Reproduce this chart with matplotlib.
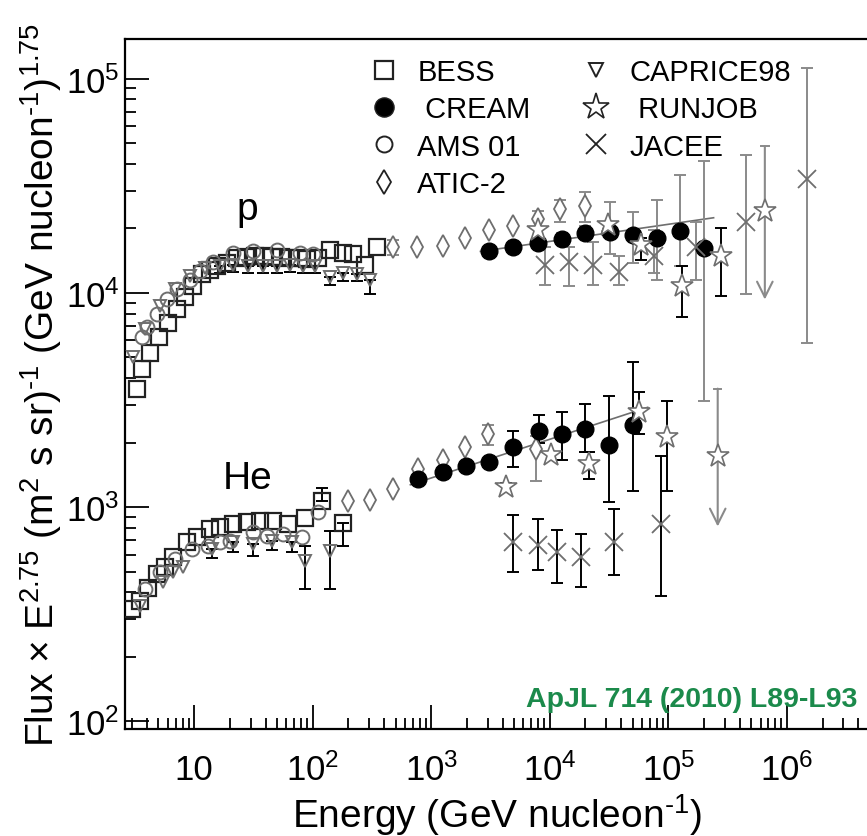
import numpy as np
import matplotlib
matplotlib.use('Agg')
import matplotlib.pyplot as plt
import matplotlib.ticker as ticker

plt.rcParams['font.family'] = ['Liberation Sans', 'DejaVu Sans']
plt.rcParams['mathtext.fontset'] = 'custom'
plt.rcParams['mathtext.rm'] = 'Liberation Sans'
plt.rcParams['mathtext.it'] = 'Liberation Sans:italic'

nan = np.nan

# ---- proton data (E in GeV/nucleon, flux x E^2.75) ----
p_bess_E = [3.3, 3.64, 4.25, 5.06, 6.03, 7.18, 8.39, 9.8, 11.7, 13.7, 15.6, 19.0, 23.1, 27.5, 32.5,
            38.5, 45.5, 54, 64, 76, 90, 110, 141, 181, 220, 278, 351]
p_bess_F = [3540, 4390, 5260, 6250, 7190, 8360, 9510, 10700, 12200, 12800, 13300, 13800, 14600, 14700, 14800,
            14800, 14700, 14700, 14600, 14500, 14400, 14600, 15800, 15400, 15100, 13550, 16400]

p_ams_E = [3.64, 4.0, 4.87, 5.92, 7.18, 9.25, 11.2, 14.5, 21.4, 31.5, 50, 78.5, 101]
p_ams_F = [6250, 6890, 7920, 9310, 10400, 11500, 12600, 13900, 15400, 15600, 15900, 15400, 15100]

p_caprice_E = [3.06, 3.86, 5.17, 6.92, 9.25, 12.4, 16.6, 21.4, 28.6, 38.3, 50, 64.7, 83.2, 105, 141, 181, 238, 306]
p_caprice_F = [4990, 6740, 8630, 10400, 12000, 13100, 13400, 13550, 13400, 13400, 13400, 13550, 13400, 13400,
               11800, 12400, 12200, 11500]
p_caprice_lo = [nan, nan, nan, nan, nan, nan, 12400, 12500, 12400, 12400, 12400, 12500, 12400, 12400,
                10900, 11400, 11300, 9820]
p_caprice_hi = [nan] * 18

p_atic_E = [480, 764, 1245, 1945, 3100, 4940, 7880, 12300, 19700]
p_atic_F = [16300, 16300, 16600, 18100, 19700, 20400, 22000, 24700, 25300]
p_atic_lo = [15000, nan, nan, nan, nan, nan, 20300, 21500, 21500]
p_atic_hi = [17700, nan, nan, nan, nan, nan, 24000, 27200, 29400]

p_cream_E = [3100, 4940, 7880, 12600, 20000, 32000, 50000, 79600, 125000, 200000]
p_cream_F = [15700, 16300, 17000, 17900, 19100, 19300, 18700, 18100, 19500, 16100]
p_cream_lo = [nan, nan, 16000, 16800, 17800, 15200, 13800, 11500, 13300, 3110]
p_cream_hi = [nan, nan, 18000, 19000, 20400, 26400, 23900, 27000, 35600, 41400]

p_runjob_E = [7880, 30800, 58500, 130000, 277000]
p_runjob_F = [19700, 20800, 16800, 10700, 14900]
p_runjob_lo = [nan, nan, 14300, 7740, 9610]
p_runjob_hi = [nan, nan, 18100, 13300, 20000]
p_runjob_ul_E = [652000]
p_runjob_ul_F = [24200]
p_runjob_ul_top = [48200]
p_runjob_ul_arrow = [9300]

p_jacee_E = [9040, 14400, 23000, 38100, 75300, 170000, 451000, 1480000]
p_jacee_F = [13550, 13850, 13550, 12550, 14800, 16300, 21500, 33800]
p_jacee_lo = [10900, 10700, 10900, 10900, 12400, 11500, 9820, 5860]
p_jacee_hi = [16400, 16300, 17200, 14800, 19700, 21500, 44200, 112000]

p_fit_E = [2600, 241000]
p_fit_F = [15600, 22400]

# ---- helium data ----
he_bess_E = [2.99, 3.5, 4.1, 4.87, 5.69, 6.65, 8.73, 10.6, 13.6, 16.6, 21.4, 28.1, 36.1, 46.4, 62.2, 86.5, 120, 181]
he_bess_F = [333, 365, 420, 485, 522, 582, 684, 721, 786, 803, 829, 847, 857, 857, 829, 893, 1062, 838]
he_bess_lo = [nan] * 17 + [655]
he_bess_hi = [nan] * 16 + [1233, nan]

he_ams_E = [3.86, 5.17, 6.92, 9.62, 13.1, 16.6, 20.1, 31.5, 41.4, 56.5, 81.7, 110]
he_ams_F = [413, 495, 570, 635, 655, 684, 692, 761, 729, 745, 721, 950]

he_caprice_E = [3.5, 5.47, 6.65, 8.07, 14.2, 21.4, 31.5, 45.6, 67.3, 86.5, 141]
he_caprice_F = [344, 445, 495, 522, 635, 684, 670, 692, 684, 557, 621]
he_caprice_lo = [nan, nan, nan, nan, 580, 614, 589, 630, 615, 413, 413]
he_caprice_hi = [nan, nan, nan, nan, nan, nan, nan, nan, nan, 655, 769]

he_atic_E = [200, 306, 480, 780, 1245, 1945, 3040, 7590]
he_atic_F = [1062, 1084, 1208, 1497, 1666, 1897, 2182, 1857]
he_atic_lo = [nan, nan, nan, nan, nan, nan, 1942, 1320]
he_atic_hi = [nan, nan, nan, nan, nan, nan, 2410, 2150]

he_cream_E = [780, 1245, 1980, 3100, 4940, 8040, 12600, 20000, 31400, 50000]
he_cream_F = [1346, 1450, 1546, 1614, 1897, 2253, 2182, 2303, 1938, 2426]
he_cream_lo = [nan, nan, nan, nan, 1531, 2000, 1666, 1800, 1050, 1183]
he_cream_hi = [nan, nan, nan, nan, 2253, 2700, 2780, 3030, 3300, 4770]

he_runjob_E = [4240, 10200, 21300, 56200, 96900]
he_runjob_F = [1234, 1741, 1581, 2791, 2133]
he_runjob_lo = [1180, nan, 1346, 2203, 1183]
he_runjob_hi = [1300, nan, 1815, 3430, 3110]
he_runjob_ul_E = [261000]
he_runjob_ul_F = [1722]
he_runjob_ul_top = [3570]
he_runjob_ul_arrow = [811]

he_jacee_E = [4850, 7880, 11400, 18200, 34600, 86300]
he_jacee_F = [684, 662, 614, 582, 684, 830]
he_jacee_lo = [495, 506, 440, 422, 480, 383]
he_jacee_hi = [914, 875, 778, 745, 975, 1722]

he_fit_E = [667, 67000]
he_fit_F = [1270, 2920]

legend_labels = ['BESS', ' CREAM', 'AMS 01', 'ATIC-2', 'CAPRICE98', ' RUNJOB', 'JACEE']
x_ticks = [10, 1e2, 1e3, 1e4, 1e5, 1e6]
y_ticks = [1e2, 1e3, 1e4, 1e5]

grey = '#6e6e6e'
lgrey = '#8a8a8a'
HY = '\u2010'  # plain hyphen for the "-1" exponents


def bars(ax, E, F, lo, hi, color, lw=1.4):
    F = np.array(F, dtype=float)
    lo = np.array(lo, dtype=float)
    hi = np.array(hi, dtype=float)
    dlo = np.where(np.isnan(lo), 0, F - lo)
    dhi = np.where(np.isnan(hi), 0, hi - F)
    keep = (dlo > 0) | (dhi > 0)
    E = np.array(E, dtype=float)[keep]
    ax.errorbar(E, F[keep], yerr=[dlo[keep], dhi[keep]], fmt='none', ecolor=color,
                elinewidth=lw, capsize=4, capthick=lw, zorder=2)


fig = plt.figure(figsize=(8.67, 8.37), dpi=100)
ax = fig.add_axes([125 / 867, 107 / 837, 752 / 867, 690 / 837])
ax.set_xscale('log')
ax.set_yscale('log')
ax.set_xlim(2.61, 5.76e6)
ax.set_ylim(92, 1.53e5)

# fit lines
ax.plot(p_fit_E, p_fit_F, color=grey, lw=1.2, zorder=1)
ax.plot(he_fit_E, he_fit_F, color=grey, lw=1.2, zorder=1)

# error bars
bars(ax, p_caprice_E, p_caprice_F, p_caprice_lo, p_caprice_hi, 'black')
bars(ax, p_atic_E, p_atic_F, p_atic_lo, p_atic_hi, lgrey)
bars(ax, p_cream_E, p_cream_F, p_cream_lo, p_cream_hi, lgrey)
bars(ax, p_runjob_E, p_runjob_F, p_runjob_lo, p_runjob_hi, 'black')
bars(ax, p_jacee_E, p_jacee_F, p_jacee_lo, p_jacee_hi, lgrey)
bars(ax, he_bess_E, he_bess_F, he_bess_lo, he_bess_hi, 'black')
bars(ax, he_caprice_E, he_caprice_F, he_caprice_lo, he_caprice_hi, 'black')
bars(ax, he_atic_E, he_atic_F, he_atic_lo, he_atic_hi, lgrey)
bars(ax, he_cream_E, he_cream_F, he_cream_lo, he_cream_hi, 'black')
bars(ax, he_runjob_E, he_runjob_F, he_runjob_lo, he_runjob_hi, 'black')
bars(ax, he_jacee_E, he_jacee_F, he_jacee_lo, he_jacee_hi, 'black')

# upper limit arrows (RUNJOB)
for E, top, low in zip(p_runjob_ul_E + he_runjob_ul_E, p_runjob_ul_top + he_runjob_ul_top,
                       p_runjob_ul_arrow + he_runjob_ul_arrow):
    ax.annotate('', xy=(E, low), xytext=(E, top),
                arrowprops=dict(arrowstyle='->', color=lgrey, lw=1.5, mutation_scale=28,
                                shrinkA=0, shrinkB=0), zorder=2)
    ax.plot([E * 0.93, E / 0.93], [top, top], color=lgrey, lw=1.4)

# markers
sq = dict(marker='s', ls='none', mfc='none', ms=11, mew=1.6)
h_bess, = ax.plot(p_bess_E, p_bess_F, mec='#222222', label=legend_labels[0], zorder=3, **sq)
ax.plot(he_bess_E, he_bess_F, mec='#222222', zorder=3, **sq)

h_ams, = ax.plot(p_ams_E, p_ams_F, marker='o', ls='none', mfc='none', mec=grey, ms=10, mew=1.4,
                 label=legend_labels[2], zorder=3)
ax.plot(he_ams_E, he_ams_F, marker='o', ls='none', mfc='none', mec=grey, ms=10, mew=1.4, zorder=3)

tri = dict(marker='v', ls='none', mfc='none', ms=9, mew=1.4)
h_cap, = ax.plot(p_caprice_E, p_caprice_F, mec=grey, label=legend_labels[4], zorder=3, **tri)
ax.plot(he_caprice_E, he_caprice_F, mec=grey, zorder=3, **tri)

dia = dict(marker='d', ls='none', mfc='white', ms=11, mew=1.3)
h_atic, = ax.plot(p_atic_E, p_atic_F, mec=grey, label=legend_labels[3], zorder=3, **dia)
ax.plot(he_atic_E, he_atic_F, mec=grey, zorder=3, **dia)

h_cream, = ax.plot(p_cream_E, p_cream_F, marker='o', ls='none', color='black', ms=12,
                   label=legend_labels[1], zorder=4)
ax.plot(he_cream_E, he_cream_F, marker='o', ls='none', color='black', ms=12, zorder=4)

st = dict(marker='*', ls='none', mfc='white', ms=17, mew=1.2)
h_run, = ax.plot(p_runjob_E + p_runjob_ul_E, p_runjob_F + p_runjob_ul_F, mec=grey,
                 label=legend_labels[5], zorder=5, **st)
ax.plot(he_runjob_E + he_runjob_ul_E, he_runjob_F + he_runjob_ul_F, mec=grey, zorder=5, **st)

xx = dict(marker='x', ls='none', ms=13, mew=1.3)
h_jac, = ax.plot(p_jacee_E, p_jacee_F, color=grey, label=legend_labels[6], zorder=5, **xx)
ax.plot(he_jacee_E, he_jacee_F, color=grey, zorder=5, **xx)

# axes styling
for s in ['left', 'bottom', 'top']:
    ax.spines[s].set_linewidth(1.6)
ax.spines['right'].set_visible(False)
ax.xaxis.set_major_locator(ticker.FixedLocator(x_ticks))
ax.xaxis.set_minor_locator(ticker.LogLocator(base=10, subs=np.arange(2, 10), numticks=40))
ax.yaxis.set_major_locator(ticker.FixedLocator(y_ticks))
ax.yaxis.set_minor_locator(ticker.LogLocator(base=10, subs=np.arange(2, 10), numticks=40))
ax.xaxis.set_minor_formatter(ticker.NullFormatter())
ax.yaxis.set_minor_formatter(ticker.NullFormatter())


def xfmt(v, pos):
    e = int(round(np.log10(v)))
    if e == 1:
        return '10'
    return r'10$^{\mathregular{%d}}$' % e


def yfmt(v, pos):
    e = int(round(np.log10(v)))
    return r'10$^{\mathregular{%d}}$' % e


ax.xaxis.set_major_formatter(ticker.FuncFormatter(xfmt))
ax.yaxis.set_major_formatter(ticker.FuncFormatter(yfmt))
ax.tick_params(which='both', direction='in', top=False, right=False, width=1.3)
ax.tick_params(which='major', length=17, labelsize=25)
ax.tick_params(which='minor', length=8)
ax.tick_params(axis='x', which='major', pad=17)
ax.tick_params(axis='y', which='major', pad=4)

# species labels
ax.text(28, 22000, 'p', fontsize=28, ha='center', va='baseline')
ax.text(28, 1233, 'He', fontsize=28, ha='center', va='baseline')

leg = ax.legend(handles=[h_bess, h_cream, h_ams, h_atic, h_cap, h_run, h_jac],
                labels=legend_labels, ncol=2, frameon=False, fontsize=21,
                loc='upper left', bbox_to_anchor=(369 / 867, 1 - 59 / 837),
                bbox_transform=fig.transFigure, borderpad=0, borderaxespad=0,
                handlelength=1.0, handletextpad=0.65, labelspacing=0.32, columnspacing=1.75)
for h in leg.legend_handles:
    h.set_markeredgecolor('#222222')
    h.set_markersize(h.get_markersize() * 1.15)

fig.text(41 / 867, 1 - 747 / 837,
         r'Flux $\times$ E$^{\mathregular{2.75}}$ (m$^{\mathregular{2}}$ s sr)$^{\mathregular{' + HY + '1}}$ '
         r'(GeV nucleon$^{\mathregular{' + HY + r'1}}$)$^{\mathregular{1.75}}$',
         rotation=90, ha='center', va='bottom', fontsize=28)
fig.text(497 / 867, 1 - 828 / 837, r'Energy (GeV nucleon$^{\mathregular{' + HY + '1}}$)',
         ha='center', va='baseline', fontsize=28)
fig.text(857 / 867, 1 - 707 / 837, 'ApJL 714 (2010) L89-L93', ha='right', va='baseline',
         fontsize=20.5, fontweight='bold', color='#1b8a4b')

fig.savefig('out.png', dpi=100)
